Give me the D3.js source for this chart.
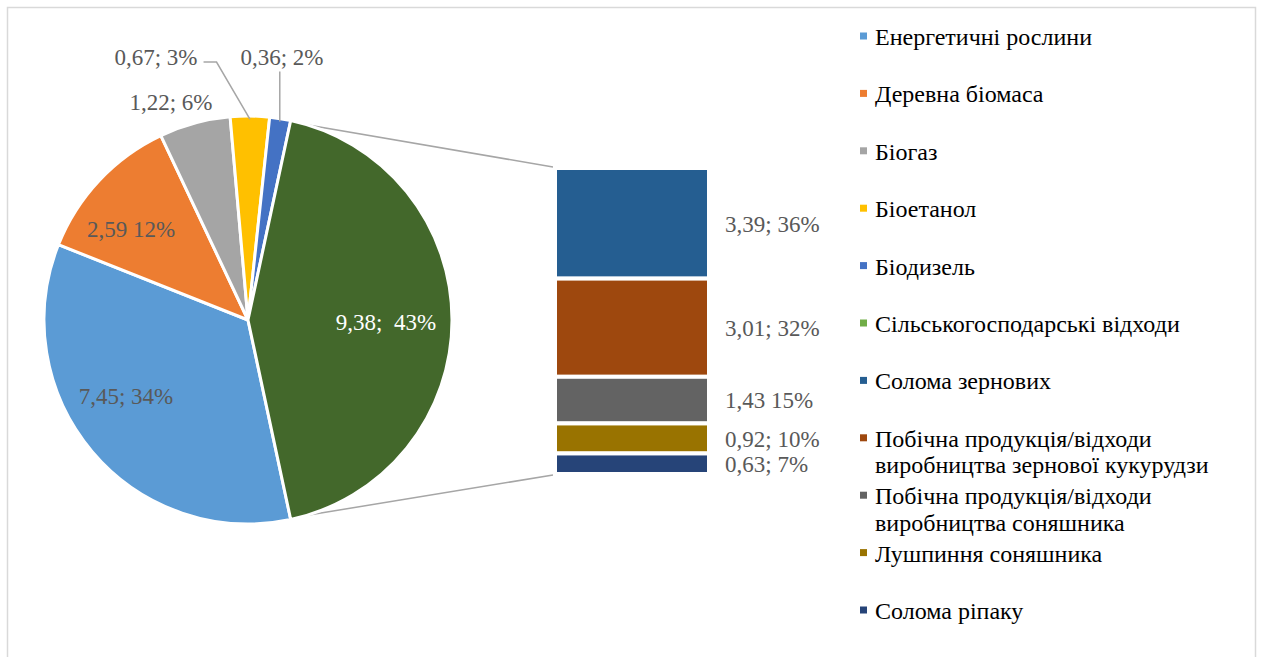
<!DOCTYPE html>
<html>
<head>
<meta charset="utf-8">
<script src="https://cdn.jsdelivr.net/npm/d3@7"></script>
<style>
  html, body { margin: 0; padding: 0; background: #fff; }
  svg { display: block; }
  text { font-family: "Liberation Serif", "Times New Roman", serif; white-space: pre; }
</style>
</head>
<body>
<svg id="chart" width="1261" height="657"></svg>
<script>
// Main pie: individual sources; the last slice is the sum of the breakdown bar
const pieCategories = ["Енергетичні рослини", "Деревна біомаса", "Біогаз", "Біоетанол", "Біодизель", "Сільськогосподарські відходи"];
const pieValues = [7.45, 2.59, 1.22, 0.67, 0.36];
const pieSeparators = ["; ", " ", "; ", "; ", "; ", ";  "];
const pieColors = ["#5B9BD5", "#ED7D31", "#A5A5A5", "#FFC000", "#4472C4", "#43682B"];
const pieLegendColors = ["#5B9BD5", "#ED7D31", "#A5A5A5", "#FFC000", "#4472C4", "#70AD47"];

// Breakdown of agricultural residues
const barCategories = ["Солома зернових", "Побічна продукція/відходи виробництва зернової кукурудзи", "Побічна продукція/відходи виробництва соняшника", "Лушпиння соняшника", "Солома ріпаку"];
const barValues = [3.39, 3.01, 1.43, 0.92, 0.63];
const barSeparators = ["; ", "; ", " ", "; ", "; "];
const barColors = ["#255E91", "#9E480E", "#636363", "#997300", "#264478"];

// Legend entries (some wrap onto two lines)
const legendLines = [
  ["Енергетичні рослини"], ["Деревна біомаса"], ["Біогаз"], ["Біоетанол"], ["Біодизель"],
  ["Сільськогосподарські відходи"], ["Солома зернових"],
  ["Побічна продукція/відходи", "виробництва зернової кукурудзи"],
  ["Побічна продукція/відходи", "виробництва соняшника"],
  ["Лушпиння соняшника"], ["Солома ріпаку"]
];
const legendColors = pieLegendColors.concat(barColors);

// Label placement around the pie (offsets of the label centre from the pie centre)
const pieLabelOffsets = [[-122, 76], [-117, -91], [-77, -218], [-92, -263], [34, -263], [138, 2]];
const pieLabelFills = ["#595959", "#595959", "#595959", "#595959", "#595959", "#FFFFFF"];

const svg = d3.select("#chart");
const W = 1261, H = 657;
const FONT = 23, LEGEND_FONT = 24;

// chart frame (no bottom edge in view)
svg.append("path")
  .attr("d", `M7.5,${H} V7.5 H1255.5 V${H}`)
  .attr("fill", "none").attr("stroke", "#D9D9D9").attr("stroke-width", 1.5);

const fmt = v => d3.format(".2f")(v).replace(".", ",");
const pct = (v, t) => Math.round(v / t * 100) + "%";

const otherValue = d3.sum(barValues);
const allPie = pieValues.concat([otherValue]);
const pieTotal = d3.sum(allPie);
const otherFrac = otherValue / pieTotal;

const cx = 248, cy = 320, R = 204;
const startA = Math.PI / 2 + otherFrac * Math.PI;
const pie = d3.pie().sort(null).value(d => d).startAngle(startA).endAngle(startA + 2 * Math.PI);
const arcs = pie(allPie);
const arc = d3.arc().innerRadius(0).outerRadius(R);
const polar = (a, r) => [cx + r * Math.sin(a), cy - r * Math.cos(a)];

// Bar of the breakdown
const barX0 = 555, barX1 = 709;
const y = d3.scaleLinear().domain([0, otherValue]).range([168, 474]);
const cum = [];
barValues.reduce((acc, v, i) => { cum[i] = acc; return acc + v; }, 0);

// connector lines between the "other" slice and the bar
const other = arcs[arcs.length - 1];
const pTop = polar(other.startAngle, R - 1.5);
const pBot = polar(other.endAngle, R - 1.5);
svg.append("line").attr("x1", pTop[0]).attr("y1", pTop[1]).attr("x2", barX0 - 2).attr("y2", y(0) - 1)
  .attr("stroke", "#A6A6A6").attr("stroke-width", 1.5);
svg.append("line").attr("x1", pBot[0]).attr("y1", pBot[1]).attr("x2", barX0 - 2).attr("y2", y(otherValue) + 1)
  .attr("stroke", "#A6A6A6").attr("stroke-width", 1.5);

// pie slices
const g = svg.append("g").attr("transform", `translate(${cx},${cy})`);
g.selectAll("path.slice").data(arcs).join("path")
  .attr("class", "slice")
  .attr("d", arc)
  .attr("fill", (d, i) => pieColors[i])
  .attr("stroke", "#fff").attr("stroke-width", 3).attr("stroke-linejoin", "round");

// pie labels
const pieLabels = svg.append("g").selectAll("text").data(arcs).join("text")
  .attr("x", (d, i) => cx + pieLabelOffsets[i][0])
  .attr("y", (d, i) => cy + pieLabelOffsets[i][1])
  .attr("dy", "0.33em")
  .attr("text-anchor", "middle")
  .attr("font-size", FONT)
  .attr("fill", (d, i) => pieLabelFills[i])
  .text((d, i) => fmt(allPie[i]) + pieSeparators[i] + pct(allPie[i], pieTotal));

// leader lines for the two smallest slices
const leaderColor = "#A6A6A6";
{
  const i = 3;
  const a = (arcs[i].startAngle + arcs[i].endAngle) / 2;
  const p = polar(a, R - 3);
  const bb = pieLabels.nodes()[i].getBBox();
  const ly = cy + pieLabelOffsets[i][1] + 5;
  svg.append("polyline")
    .attr("points", [[bb.x + bb.width + 6, ly], [bb.x + bb.width + 19, ly], p].map(q => q.join(",")).join(" "))
    .attr("fill", "none").attr("stroke", leaderColor).attr("stroke-width", 1.5);
}
{
  const i = 4;
  const a = (arcs[i].startAngle + arcs[i].endAngle) / 2;
  const p = polar(a, R - 3);
  const bb = pieLabels.nodes()[i].getBBox();
  svg.append("line")
    .attr("x1", p[0]).attr("y1", bb.y + bb.height + 2)
    .attr("x2", p[0]).attr("y2", p[1])
    .attr("stroke", leaderColor).attr("stroke-width", 1.5);
}

// bar segments
svg.append("g").selectAll("rect").data(barValues).join("rect")
  .attr("x", barX0)
  .attr("width", barX1 - barX0)
  .attr("y", (d, i) => y(cum[i]))
  .attr("height", (d, i) => y(cum[i] + d) - y(cum[i]))
  .attr("fill", (d, i) => barColors[i])
  .attr("stroke", "#fff").attr("stroke-width", 4);

// bar labels
svg.append("g").selectAll("text").data(barValues).join("text")
  .attr("x", 725)
  .attr("y", (d, i) => (y(cum[i]) + y(cum[i] + d)) / 2)
  .attr("dy", "0.36em")
  .attr("font-size", FONT)
  .attr("fill", "#595959")
  .text((d, i) => fmt(d) + barSeparators[i] + pct(d, otherValue));

// legend
const legend = svg.append("g");
const legendTop = 45, legendStep = 57.4, lineStep = 26.5;
legendLines.forEach((lines, i) => {
  const base = legendTop + i * legendStep;
  legend.append("rect")
    .attr("x", 860).attr("y", base - 12.5).attr("width", 7).attr("height", 7)
    .attr("fill", legendColors[i]);
  lines.forEach((t, j) => {
    legend.append("text")
      .attr("x", 875).attr("y", base + j * lineStep)
      .attr("font-size", LEGEND_FONT).attr("fill", "#000")
      .text(t);
  });
});
</script>
</body>
</html>
